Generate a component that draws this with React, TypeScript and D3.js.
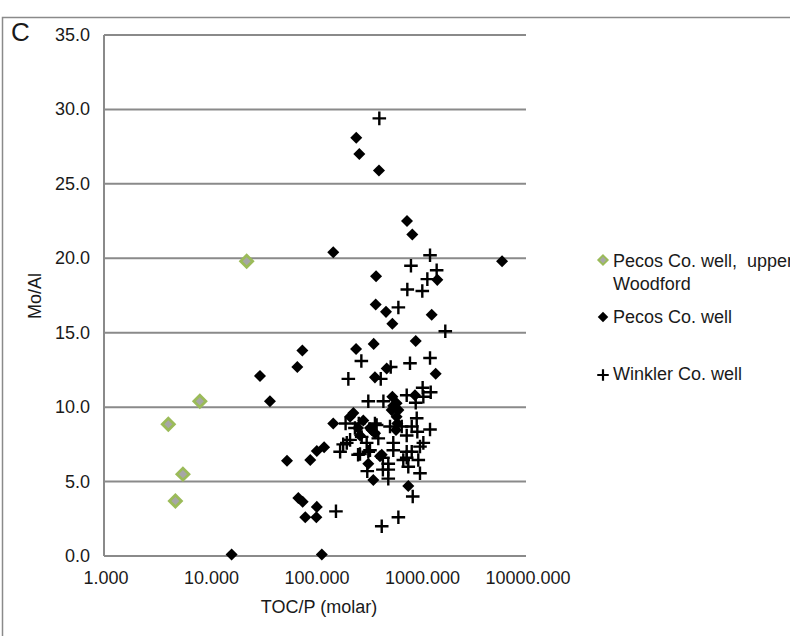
import * as d3 from "d3";

// Pecos Co. well, upper Woodford
const upperTOC = [22.5, 8.1, 4.07, 5.6, 4.75];
const upperMo = [19.8, 10.4, 8.85, 5.5, 3.7];

// Pecos Co. well
const pecosTOC = [16.2, 116, 30.1, 37.4, 54.3, 69.5, 76.4, 80.9, 103, 104, 90.2, 104, 122, 149, 68, 75.9,
    149, 246, 263, 404, 745, 836, 5930, 1443, 379, 376, 471, 541, 1277, 901, 245, 360, 1393, 478, 370,
    887, 541, 594, 617, 594, 603, 586, 231, 215, 287, 344, 332, 371, 256, 267, 429, 413, 320, 357, 766, 533, 552];
const pecosMo = [0.1, 0.1, 12.1, 10.4, 6.4, 3.9, 3.65, 2.6, 2.6, 3.3, 6.45, 7.06, 7.3, 8.9, 12.7, 13.8,
    20.4, 28.1, 27.0, 25.9, 22.5, 21.6, 19.8, 18.55, 18.8, 16.9, 16.4, 15.6, 16.2, 14.45, 13.9, 14.25, 12.25, 12.6, 12.0,
    10.8, 10.7, 10.26, 9.8, 9.36, 8.9, 8.47, 9.6, 9.36, 9.1, 8.47, 8.6, 8.25, 8.6, 8.1, 6.8, 6.7, 6.2, 5.1, 4.7, 9.8, 10.1];

// Winkler Co. well
const winklerTOC = [407, 1231, 812, 1423, 1161, 750, 1040, 617, 1718, 275, 1231, 795, 522, 207, 420, 1048, 1250,
    1064, 740, 901, 320, 445, 195, 173, 200, 158, 239, 384, 277, 215, 185, 398, 332, 267, 256, 313, 495, 495, 495,
    552, 552, 514, 664, 740, 826, 933, 921, 1231, 1064, 989, 740, 826, 740, 953, 766, 989, 687, 844, 617, 429,
    260, 370, 320, 309, 440, 440];
const winklerMo = [29.4, 20.2, 19.5, 19.2, 18.6, 17.9, 17.8, 16.7, 15.1, 13.1, 13.3, 12.95, 12.7, 11.9, 11.9, 11.3, 11.0,
    10.7, 10.8, 10.3, 10.4, 10.4, 8.9, 7.0, 7.6, 3.0, 8.6, 8.8, 8.0, 7.8, 7.5, 7.9, 7.1, 6.85, 6.8, 5.7, 6.2, 5.8, 5.2,
    7.1, 7.6, 8.7, 8.7, 8.1, 8.7, 8.35, 9.25, 8.5, 7.6, 7.35, 7.0, 7.0, 6.6, 6.45, 6.0, 5.56, 6.45, 4.0, 2.6, 2.0,
    8.9, 8.9, 7.0, 7.6, 6.6, 5.8];

const yTicks = [0, 5, 10, 15, 20, 25, 30, 35];
const xTicks = [1, 10, 100, 1000, 10000];
// first legend entry wraps over two lines, with a wide justified gap before "upper"
const upperLabel = ["Pecos Co. well,", "upper", "Woodford"];
const legendLabels = ["Pecos Co. well", "Winkler Co. well"];

const W = 790, H = 636;
const font = "'Liberation Sans', Arial, sans-serif";

export default function App() {
    const x = d3.scaleLog().domain([1, 10000]).range([104, 526]);
    const y = d3.scaleLinear().domain([0, 35]).range([556, 35]);

    const diamond = d3.symbol().type(d3.symbolDiamond2).size(92)()!;
    const greenDiamond = d3.symbol().type(d3.symbolDiamond2).size(92)()!;
    const plus = d3.symbol().type(d3.symbolPlus).size(62)()!;

    const grid = "#8a8a8a";
    const ink = "#1a1a1a";

    return (
        <svg width={W} height={H} style={{position: "absolute", left: 0, top: 0, background: "#fff"}}
             fontFamily={font}>
            <rect x={2.5} y={17.5} width={W + 10} height={H + 10} fill="none" stroke={grid} strokeWidth={1.5}/>
            <text x={11} y={41} fontSize={26} fill={ink}>C</text>

            {yTicks.map(t => (
                <g key={t}>
                    <line x1={x(1)} x2={x(10000)} y1={y(t)} y2={y(t)} stroke={grid} strokeWidth={2}/>
                    <text x={90} y={y(t) + 6} fontSize={18} textAnchor="end" fill={ink}>{t.toFixed(1)}</text>
                </g>
            ))}
            <line x1={x(1)} x2={x(1)} y1={y(0)} y2={y(35)} stroke={grid} strokeWidth={2}/>

            {xTicks.map(t => (
                <text key={t} x={x(t) + 2} y={584} fontSize={18} textAnchor="middle" fill={ink}>{t.toFixed(3)}</text>
            ))}
            <text x={319} y={613} fontSize={18} textAnchor="middle" fill={ink}>TOC/P (molar)</text>
            <text transform="translate(41,296) rotate(-90)" fontSize={18} textAnchor="middle" fill={ink}>Mo/Al</text>

            {pecosTOC.map((v, i) => (
                <path key={"p" + i} d={diamond} transform={`translate(${x(v)},${y(pecosMo[i])})`} fill="#000"/>
            ))}
            {winklerTOC.map((v, i) => (
                <path key={"w" + i} d={plus} transform={`translate(${x(v)},${y(winklerMo[i])})`}
                      stroke="#000" strokeWidth={2.4} fill="none"/>
            ))}
            {upperTOC.map((v, i) => (
                <path key={"u" + i} d={greenDiamond} transform={`translate(${x(v)},${y(upperMo[i])})`}
                      fill="#a6a6a6" stroke="#9bbb59" strokeWidth={2.8}/>
            ))}

            <g fontSize={18} fill={ink}>
                <path d={d3.symbol().type(d3.symbolDiamond2).size(55)()!} transform="translate(603,260)"
                      fill="#a6a6a6" stroke="#9bbb59" strokeWidth={2}/>
                <text x={613} y={267}>{upperLabel[0]}<tspan x={747}>{upperLabel[1]}</tspan></text>
                <text x={613} y={290}>{upperLabel[2]}</text>
                <path d={d3.symbol().type(d3.symbolDiamond2).size(70)()!} transform="translate(603,317)" fill="#000"/>
                <text x={613} y={323}>{legendLabels[0]}</text>
                <path d={d3.symbol().type(d3.symbolPlus).size(45)()!} transform="translate(603,375)"
                      stroke="#000" strokeWidth={2.2} fill="none"/>
                <text x={613} y={380}>{legendLabels[1]}</text>
            </g>
        </svg>
    );
}
